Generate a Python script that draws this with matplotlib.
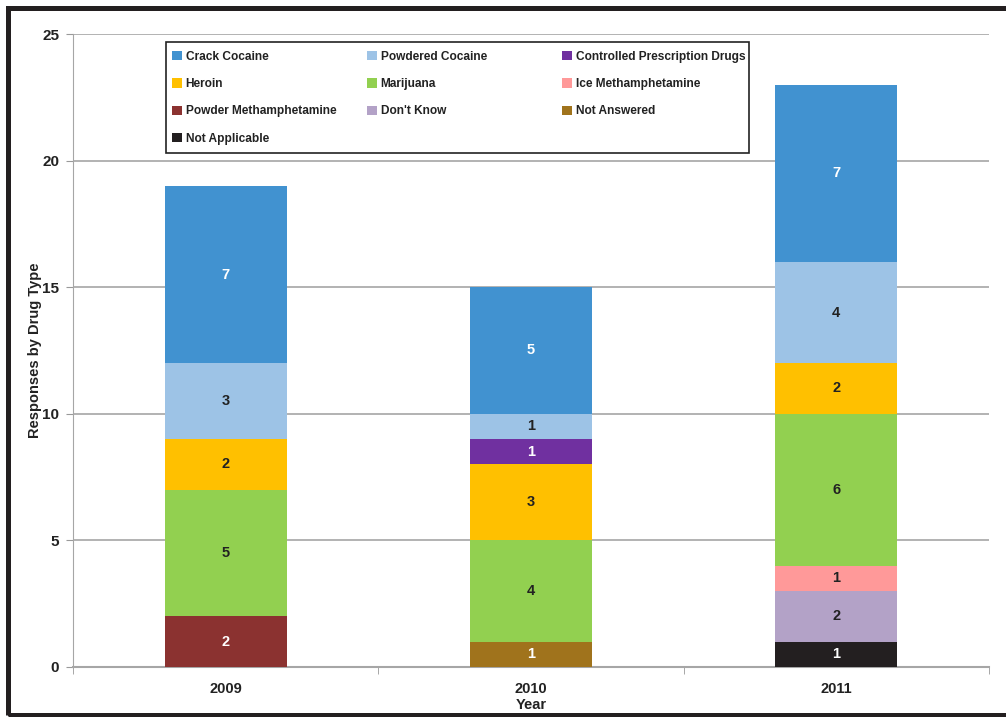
import matplotlib
matplotlib.use("Agg")
import matplotlib.pyplot as plt
from matplotlib.patches import Rectangle, Patch
import numpy as np

plt.rcParams['font.family'] = ['Liberation Sans', 'DejaVu Sans']
plt.rcParams['font.weight'] = 'bold'

years = ['2009', '2010', '2011']
# stacking order bottom -> top
series = ['Not Applicable', 'Not Answered', "Don't Know", 'Powder Methamphetamine',
          'Ice Methamphetamine', 'Marijuana', 'Heroin', 'Controlled Prescription Drugs',
          'Powdered Cocaine', 'Crack Cocaine']
not_applicable = [0, 0, 1]
not_answered = [0, 1, 0]
dont_know = [0, 0, 2]
powder_meth = [2, 0, 0]
ice_meth = [0, 0, 1]
marijuana = [5, 4, 6]
heroin = [2, 3, 2]
controlled_rx = [0, 1, 0]
powdered_cocaine = [3, 1, 4]
crack_cocaine = [7, 5, 7]
values = [not_applicable, not_answered, dont_know, powder_meth, ice_meth,
          marijuana, heroin, controlled_rx, powdered_cocaine, crack_cocaine]
colors = ['#231F20', '#A0731C', '#B3A2C7', '#8B3230', '#FF9999',
          '#92D050', '#FFC000', '#7030A0', '#9DC3E6', '#4192D0']
label_colors = ['white', 'white', '#222222', 'white', '#222222',
                '#222222', '#222222', 'white', '#222222', 'white']

fig = plt.figure(figsize=(10.06, 7.17), dpi=100)
ax = fig.add_axes([73/1006, 1-667/717, (989-73)/1006, (667-34)/717])

x = np.arange(len(years))
bottom = np.zeros(len(years))
handles = {}
for name, vals, c, lc in zip(series, values, colors, label_colors):
    vals = np.array(vals, dtype=float)
    ax.bar(x, vals, width=0.4, bottom=bottom, color=c, linewidth=0, zorder=3)
    for xi, v, b in zip(x, vals, bottom):
        if v > 0:
            ax.text(xi, b + v/2, f"{int(v)}", ha='center', va='center',
                    color=lc, fontsize=10.5, fontweight='bold', zorder=4)
    handles[name] = Patch(facecolor=c, edgecolor='none')
    bottom += vals

ax.set_xlim(-0.5, 2.5)
ax.set_ylim(0, 25)
ax.set_yticks([0, 5, 10, 15, 20, 25])
ax.yaxis.grid(True, color='#A6A6A6', linewidth=1.2, zorder=0)
ax.set_axisbelow(True)
ax.set_xticks(x)
ax.set_xticklabels(years)
ax.set_xticks([-0.5, 0.5, 1.5, 2.5], minor=True)
ax.tick_params(axis='x', which='major', length=0, pad=11, labelsize=10.5, colors='#222222')
ax.tick_params(axis='x', which='minor', length=5, color='#999999', direction='out')
ax.tick_params(axis='y', which='major', length=5, color='#999999', pad=5, labelsize=11, labelcolor='#222222')
for lab in ax.get_xticklabels() + ax.get_yticklabels():
    lab.set_fontweight('bold')
for s in ['top', 'right']:
    ax.spines[s].set_visible(False)
ax.spines['left'].set_color('#A6A6A6')
ax.spines['bottom'].set_color('#A6A6A6')
ax.spines['bottom'].set_linewidth(1.5)
ax.set_xlabel('Year', fontsize=10.5, fontweight='bold', labelpad=1.5, color='#222222')
ax.set_ylabel('Responses by Drug Type', fontsize=10.5, fontweight='bold', labelpad=0, color='#222222')

# legend: three columns placed at fixed positions, with a common frame
cols = [['Crack Cocaine', 'Heroin', 'Powder Methamphetamine', 'Not Applicable'],
        ['Powdered Cocaine', 'Marijuana', "Don't Know"],
        ['Controlled Prescription Drugs', 'Ice Methamphetamine', 'Not Answered']]
col_x = [172, 367, 562]
for cx, names in zip(col_x, cols):
    leg = fig.legend([handles[n] for n in names], names, loc='upper left',
                     bbox_to_anchor=(cx/1006, 1-51/717), frameon=False,
                     handlelength=0.8, handleheight=0.8, handletextpad=0.35,
                     labelspacing=1.27, borderpad=0.0, borderaxespad=0,
                     prop={'size': 8.6, 'weight': 'bold'})
    for t in leg.get_texts():
        t.set_color('#222222')
fig.add_artist(Rectangle((166/1006, 1-153/717), (749-166)/1006, (153-42)/717,
                         transform=fig.transFigure, fill=False, edgecolor='#222222',
                         linewidth=1.2, zorder=5))

# outer frame (right side runs off the image)
fig.add_artist(Rectangle((8/1006, 1-714.5/717), 1.2, (714.5-8)/717,
                         transform=fig.transFigure, fill=False, edgecolor='#231F20',
                         linewidth=3.6, zorder=6))

fig.savefig('out.png', dpi=100)
